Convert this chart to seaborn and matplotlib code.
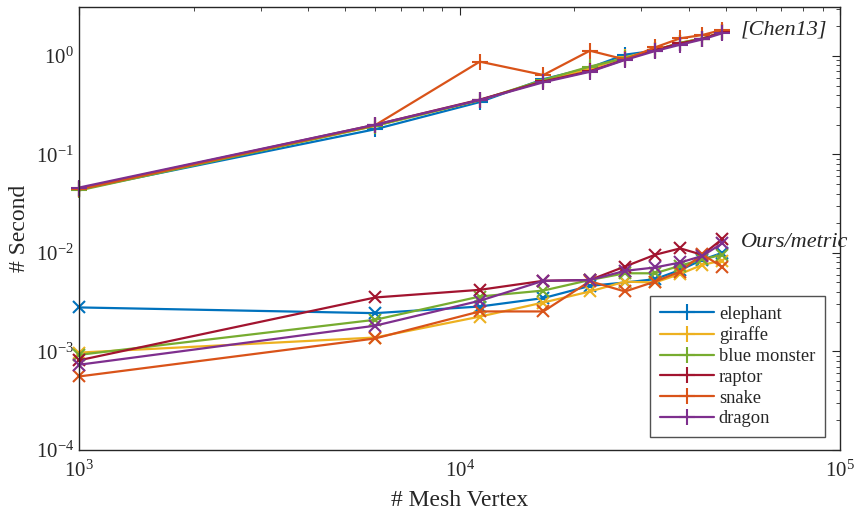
import numpy as np
import pandas as pd
from matplotlib import pyplot as plt
from matplotlib.lines import Line2D
import seaborn as sns

sns.set_style('white')
plt.rcParams['font.family'] = ['Liberation Serif', 'DejaVu Serif']
plt.rcParams['mathtext.fontset'] = 'stix'

models = ['elephant', 'giraffe', 'blue monster', 'raptor', 'snake', 'dragon']
colors = ['#0072BD', '#EDB120', '#77AC30', '#A2142F', '#D95319', '#7E2F8E']

vertices = [1000, 6000, 11300, 16600, 22000, 27200, 32600, 38000, 43400, 49000]

# [Chen13] timings (seconds)
chen13 = {
    'elephant':     [0.044, 0.180, 0.340, 0.580, 0.760, 1.03, 1.13, 1.35, 1.50, 1.74],
    'giraffe':      [0.044, 0.195, 0.355, 0.560, 0.740, 0.97, 1.14, 1.36, 1.50, 1.73],
    'blue monster': [0.043, 0.195, 0.355, 0.570, 0.780, 0.95, 1.14, 1.36, 1.50, 1.74],
    'raptor':       [0.045, 0.200, 0.360, 0.550, 0.700, 0.92, 1.15, 1.34, 1.49, 1.75],
    'snake':        [0.044, 0.198, 0.875, 0.640, 1.130, 0.92, 1.22, 1.51, 1.63, 1.84],
    'dragon':       [0.046, 0.200, 0.357, 0.540, 0.690, 0.91, 1.12, 1.30, 1.47, 1.70],
}

# Ours/metric timings (seconds)
ours = {
    'elephant':     [2.79e-3, 2.44e-3, 2.85e-3, 3.47e-3, 4.62e-3, 5.0e-3, 5.4e-3, 6.7e-3, 8.5e-3, 1.0e-2],
    'giraffe':      [0.97e-3, 1.38e-3, 2.25e-3, 3.13e-3, 4.05e-3, 5.1e-3, 5.0e-3, 6.1e-3, 7.55e-3, 8.35e-3],
    'blue monster': [0.92e-3, 2.09e-3, 3.60e-3, 4.14e-3, 5.30e-3, 6.2e-3, 6.2e-3, 7.4e-3, 8.6e-3, 9.55e-3],
    'raptor':       [0.81e-3, 3.52e-3, 4.21e-3, 5.20e-3, 5.30e-3, 7.26e-3, 9.55e-3, 1.11e-2, 9.55e-3, 1.38e-2],
    'snake':        [0.555e-3, 1.35e-3, 2.54e-3, 2.54e-3, 5.15e-3, 4.05e-3, 5.1e-3, 6.46e-3, 9.7e-3, 7.16e-3],
    'dragon':       [0.73e-3, 1.82e-3, 3.26e-3, 5.20e-3, 5.30e-3, 6.56e-3, 7.1e-3, 7.98e-3, 9.3e-3, 1.25e-2],
}


def to_long(d):
    rows = []
    for m in models:
        for v, t in zip(vertices, d[m]):
            rows.append({'model': m, 'vertex': v, 'sec': t})
    return pd.DataFrame(rows)


df_chen = to_long(chen13)
df_ours = to_long(ours)
pal = dict(zip(models, colors))

fig = plt.figure(figsize=(8.66, 5.14), dpi=100)
ax = fig.add_axes([0.0912, 0.125, 0.879, 0.861])

sns.lineplot(data=df_chen, x='vertex', y='sec', hue='model', hue_order=models, palette=pal,
             estimator=None, sort=False, marker='+', markersize=11, markeredgewidth=1.5,
             linewidth=1.6, legend=False, ax=ax)
sns.lineplot(data=df_ours, x='vertex', y='sec', hue='model', hue_order=models, palette=pal,
             estimator=None, sort=False, marker='x', markersize=9, markeredgewidth=1.5,
             linewidth=1.6, legend=False, ax=ax)

# seaborn draws white marker edges; '+' and 'x' need the line colour
for ln in ax.lines:
    ln.set_markeredgecolor(ln.get_color())
    ln.set_clip_on(False)

ax.set_xscale('log')
ax.set_yscale('log')
ax.set_xlim(1e3, 1e5)
ax.set_ylim(1e-4, 10 ** 0.495)

for s in ax.spines.values():
    s.set_color('#262626')
    s.set_linewidth(1.0)
ax.tick_params(which='both', direction='in', top=True, right=True, labelsize=15, colors='#262626')
ax.tick_params(which='major', length=6)
ax.tick_params(which='minor', length=3)
ax.tick_params(axis='x', pad=8)

ax.set_xlabel('# Mesh Vertex', fontsize=17, color='#262626', labelpad=6)
ax.set_ylabel('# Second', fontsize=17, color='#262626', labelpad=4)

ax.text(0.869, 0.949, '[Chen13]', transform=ax.transAxes, fontsize=16, style='italic',
        va='center', ha='left', color='#262626')
ax.text(0.869, 0.468, 'Ours/metric', transform=ax.transAxes, fontsize=16, style='italic',
        va='center', ha='left', color='#262626')

handles = [Line2D([], [], color=c, marker='+', markersize=11, markeredgewidth=1.5, linewidth=1.6)
           for c in colors]
leg = ax.legend(handles, models, loc='lower right', bbox_to_anchor=(0.9805, 0.028), fontsize=13.3,
                numpoints=1, handlelength=2.95, frameon=True, fancybox=False, borderpad=0.55,
                labelspacing=0.2, handletextpad=0.25, borderaxespad=0)
leg.get_frame().set_edgecolor('#262626')
leg.get_frame().set_linewidth(1.0)

fig.savefig('out.png', dpi=100)
